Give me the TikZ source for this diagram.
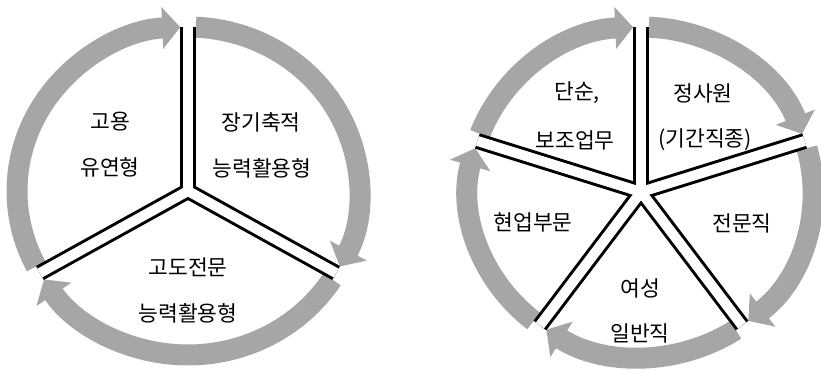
\documentclass[tikz,border=0pt]{standalone}
\usepackage{fontspec}
\setmainfont{Noto Sans CJK KR}
\usetikzlibrary{arrows.meta,calc}
\definecolor{ringgray}{HTML}{A6A6A6}
\begin{document}
\begin{tikzpicture}[x=1pt,y=1pt,
  ringarc/.style={draw=ringgray,line width=21pt,-{Triangle[width=41pt,length=18pt]}},
  spokeblack/.style={draw=black,line width=16pt},
  spokewhite/.style={draw=white,line width=10pt},
  lbl/.style={font=\fontsize{21.5pt}{25pt}\selectfont,inner sep=0pt}]
\useasboundingbox (0,0) rectangle (821,371);
\coordinate (L) at (188,180);
\coordinate (R) at (641,179);
\def\dl{2.6}
% ---- left cycle: arcs
\foreach \s/\e in {210/90, 90/-30, -30/-150}{
  \draw[ringarc] (L) ++(\s-\dl:171pt and 164pt)
    arc[start angle=\s-\dl, end angle=\e+\dl, x radius=171pt, y radius=164pt];
}
% ---- left cycle: spokes
\foreach \a in {90,210,330} \draw[spokeblack] (L) -- ++(\a:171pt and 164pt);
\foreach \a in {90,210,330} \draw[spokewhite] (L) -- ++(\a:171pt and 164pt);
% ---- right cycle: arcs
\foreach \s/\e in {162/90, 90/18, 18/-54, -54/-126, 234/162}{
  \draw[ringarc] (R) ++(\s-\dl:172pt and 165pt)
    arc[start angle=\s-\dl, end angle=\e+\dl, x radius=172pt, y radius=165pt];
}
% ---- right cycle: spokes
\foreach \a in {90,18,-54,-126,162} \draw[spokeblack] (R) -- ++(\a:172pt and 165pt);
\foreach \a in {90,18,-54,-126,162} \draw[spokewhite] (R) -- ++(\a:172pt and 165pt);
% ---- labels left
\node[lbl] (l1a) at (110,249) {고용};
\node[lbl] (l1b) at (110,204) {유연형};
\node[lbl] (l2a) at (261,249) {장기축적};
\node[lbl] (l2b) at (262,203) {능력활용형};
\node[lbl] (l3a) at (188,104) {고도전문};
\node[lbl] (l3b) at (188,58) {능력활용형};
% ---- labels right
\node[lbl] (r1a) at (577,278) {단순,};
\node[lbl] (r1b) at (575,231) {보조업무};
\node[lbl] (r2a) at (703,278) {정사원};
\node[lbl] (r2b) at (705,231) {(기간직종)};
\node[lbl] (r3) at (742,148) {전문직};
\node[lbl] (r5) at (533,149) {현업부문};
\node[lbl] (r4a) at (640,83) {여성};
\node[lbl] (r4b) at (640,38) {일반직};
\end{tikzpicture}
\end{document}
